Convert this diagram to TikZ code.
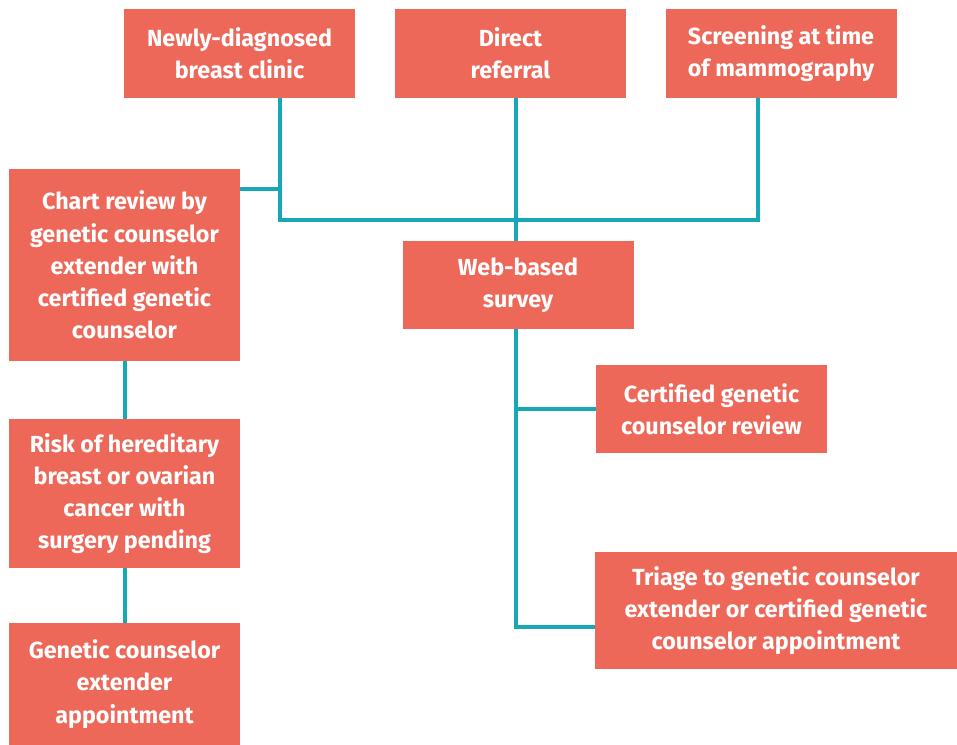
\documentclass[tikz,border=0pt]{standalone}
\usepackage{fontspec}
\setmainfont{Fira Sans}
\definecolor{boxfill}{RGB}{238,104,89}
\definecolor{teal}{RGB}{23,168,181}
\begin{document}
\begin{tikzpicture}[x=1bp,y=-1bp,
  box/.style={fill=boxfill, text=white, inner sep=0pt, align=center,
    minimum width=231bp, font=\fontsize{23.4}{32.3}\selectfont\bfseries},
  link/.style={draw=teal, line width=4bp}]
\useasboundingbox (0,0) rectangle (957,745);
\node[box, minimum height=89bp] (b1) at (239.5,53.5) {Newly-diagnosed\\breast clinic};
\node[box, minimum height=89bp] (b2) at (510.5,53.5) {Direct\\referral};
\node[box, minimum height=89bp] (b3) at (781,53.5) {Screening at time\\of mammography};
\node[box, minimum height=192bp] (chart) at (124.5,265) {Chart review by\\genetic counselor\\extender with\\certified genetic\\counselor};
\node[box, minimum height=88bp] (web) at (518,285) {Web-based\\survey};
\node[box, minimum height=88bp] (cert) at (711.5,409) {Certified genetic\\counselor review};
\node[box, minimum height=149bp] (risk) at (124.5,493.5) {Risk of hereditary\\breast or ovarian\\cancer with\\surgery pending};
\node[box, minimum height=117bp, minimum width=362bp] (triage) at (776,610.5) {Triage to genetic counselor\\extender or certified genetic\\counselor appointment};
\node[box, minimum height=122bp] (gce) at (124.5,684) {Genetic counselor\\extender\\appointment};
\coordinate (jL) at (280,220);
\coordinate (jR) at (758,220);
\coordinate (sx) at (516,220);
\coordinate (cy) at (260,189);
\coordinate (ty) at (560,627);
\draw[link] (b1.south -| jL) |- (jR) -- (b3.south -| jR);
\draw[link] (b2.south -| sx) -- (web.north -| sx);
\draw[link] (chart.east |- cy) -- (cy -| jL);
\draw[link] (web.south -| sx) |- (triage.west |- ty);
\draw[link] (cert.west) -- (cert.west -| sx);
\draw[link] (chart.south) -- (risk.north);
\draw[link] (risk.south) -- (gce.north);
\end{tikzpicture}
\end{document}
